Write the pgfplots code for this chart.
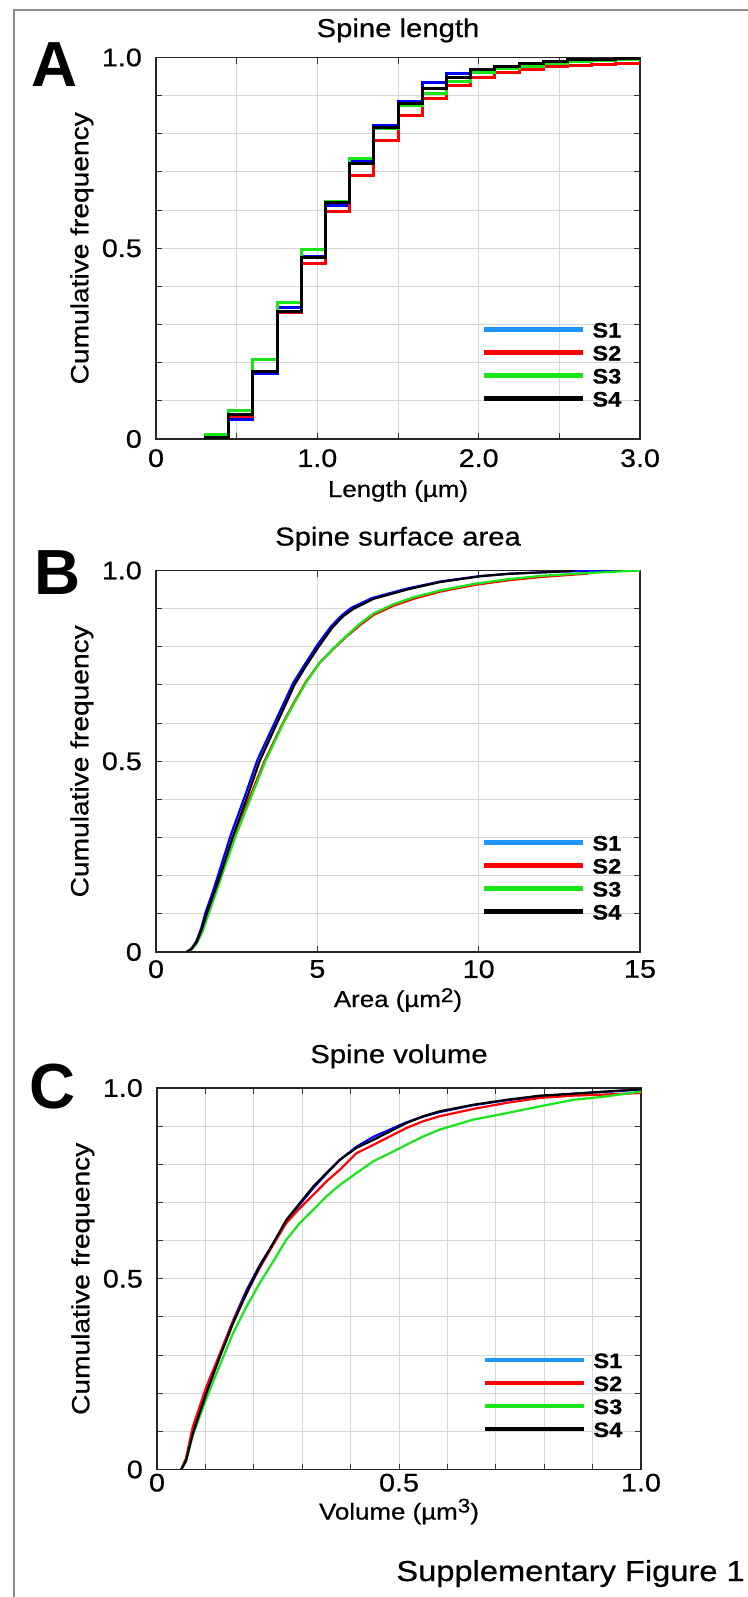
\documentclass[border=0pt]{standalone}
\usepackage{fontspec}
\setmainfont[FakeStretch=1.13, FakeBold=0.6]{Liberation Sans}
\newfontfamily\letterfont{Liberation Sans}
\usepackage{pgfplots}
\pgfplotsset{compat=1.18}
\definecolor{sone}{RGB}{0,0,255}
\definecolor{sonelg}{RGB}{30,150,255}
\definecolor{stwo}{RGB}{255,0,0}
\definecolor{sthree}{RGB}{25,230,25}
\definecolor{sfour}{RGB}{0,0,0}
\definecolor{gridgray}{RGB}{215,215,215}
\definecolor{framegray}{RGB}{140,140,140}

\pgfplotsset{
  panel/.style={
    scale only axis, width=484bp, height=381.5bp,
    ymin=0, ymax=1,
    ytick={0,0.1,0.2,0.3,0.4,0.5,0.6,0.7,0.8,0.9,1.0},
    yticklabels={0,,,,,0.5,,,,,1.0},
    tick align=inside, tick pos=both,
    major tick length=6bp,
    grid=major, major grid style={gridgray, line width=1bp},
    axis line style={black!85, line width=1.4bp},
    tick style={black!80, line width=1bp},
    /pgf/number format/assume math mode=true,
    ticklabel style={font=\fontsize{25.5}{25.5}\selectfont},
    yticklabel style={inner sep=0pt, xshift=-14bp},
    title style={at={(rel axis cs:0.5,1)}, anchor=base, inner sep=0pt, font=\fontsize{26}{26}\selectfont},
    xlabel style={at={(rel axis cs:0.5,0)}, anchor=base, inner sep=0pt, font=\fontsize{23}{23}\selectfont},
    ylabel style={at={(rel axis cs:-0.1399,0.5)}, anchor=base, inner sep=0pt, font=\fontsize{25}{25}\selectfont},
    ylabel={Cumulative frequency},
    legend style={at={(rel axis cs:0.673,0.1966)}, anchor=west, draw=none, fill=none,
      inner sep=0pt, row sep=7bp, column sep=7bp,
      font=\bfseries\fontsize{21}{21}\selectfont,
      nodes={inner sep=0pt, text height=16bp, text depth=0pt}},
    legend cell align=left,
    legend image code/.code={\draw[#1] (0bp,0bp) -- (99bp,0bp);},
  },
  lg/.style={line width=4.5bp},
}

\begin{document}
\begin{tikzpicture}
\useasboundingbox (0,0) rectangle (748bp,-1597bp);
\draw[framegray, line width=2bp] (14bp,-1597bp) -- (14bp,-10bp) -- (748bp,-10bp);

% ---------------- Panel A ----------------
\begin{axis}[panel, at={(156bp,-57.5bp)}, anchor=north west,
  xmin=0, xmax=3,
  xtick={0,0.5,1,1.5,2,2.5,3}, xticklabels={0,,1.0,,2.0,,3.0},
  xticklabel style={inner sep=0pt, yshift=-10bp},
  title={Spine length}, title style={yshift=14.5bp},
  xlabel={Length (µm)}, xlabel style={yshift=-58bp}]
\addlegendimage{lg, sonelg}\addlegendentry{S1}
\addlegendimage{lg, stwo}\addlegendentry{S2}
\addlegendimage{lg, sthree}\addlegendentry{S3}
\addlegendimage{lg, sfour}\addlegendentry{S4}
\addplot[forget plot, const plot, sone, line width=3bp] coordinates {
(0.30,0.003) (0.45,0.050) (0.60,0.172) (0.75,0.344) (0.90,0.479) (1.05,0.613)
(1.20,0.731) (1.35,0.823) (1.50,0.884) (1.65,0.934) (1.80,0.957) (1.95,0.969)
(2.10,0.977) (2.25,0.983) (2.40,0.986) (2.55,0.994) (2.70,0.996) (2.85,0.997) (3.00,0.997)};
\addplot[forget plot, const plot, stwo, line width=3bp] coordinates {
(0.30,0.003) (0.45,0.060) (0.60,0.176) (0.75,0.331) (0.90,0.460) (1.05,0.596)
(1.20,0.690) (1.35,0.782) (1.50,0.849) (1.65,0.893) (1.80,0.927) (1.95,0.948)
(2.10,0.961) (2.25,0.969) (2.40,0.977) (2.55,0.980) (2.70,0.982) (2.85,0.984) (3.00,0.985)};
\addplot[forget plot, const plot, sthree, line width=3bp] coordinates {
(0.30,0.012) (0.45,0.076) (0.60,0.209) (0.75,0.357) (0.90,0.497) (1.05,0.623)
(1.20,0.735) (1.35,0.814) (1.50,0.873) (1.65,0.906) (1.80,0.936) (1.95,0.960)
(2.10,0.971) (2.25,0.977) (2.40,0.985) (2.55,0.990) (2.70,0.993) (2.85,0.995) (3.00,0.995)};
\addplot[forget plot, const plot, sfour, line width=3bp] coordinates {
(0.30,0.004) (0.45,0.063) (0.60,0.176) (0.75,0.334) (0.90,0.475) (1.05,0.620)
(1.20,0.722) (1.35,0.817) (1.50,0.879) (1.65,0.919) (1.80,0.947) (1.95,0.969)
(2.10,0.977) (2.25,0.983) (2.40,0.990) (2.55,0.995) (2.70,0.996) (2.85,0.997) (3.00,0.997)};
\end{axis}

% ---------------- Panel B ----------------
\begin{axis}[panel, at={(156bp,-570.5bp)}, anchor=north west,
  xmin=0, xmax=15,
  xtick={0,5,10,15}, xticklabels={0,5,10,15},
  xticklabel style={inner sep=0pt, yshift=-8bp},
  title={Spine surface area}, title style={yshift=19bp},
  xlabel={Area (µm\raisebox{5bp}{\fontsize{20}{20}\selectfont 2})}, xlabel style={yshift=-55bp}]
\addlegendimage{lg, sonelg}\addlegendentry{S1}
\addlegendimage{lg, stwo}\addlegendentry{S2}
\addlegendimage{lg, sthree}\addlegendentry{S3}
\addlegendimage{lg, sfour}\addlegendentry{S4}
\addplot[forget plot, sone, line width=2.2bp] coordinates {
(0.95,0) (1.1,0.009) (1.25,0.028) (1.4,0.062) (1.54,0.105) (1.75,0.155) (1.94,0.205)
(2.31,0.305) (2.74,0.405) (3.15,0.505) (3.70,0.605) (4.25,0.705) (4.62,0.755) (5.00,0.805)
(5.42,0.853) (5.75,0.882) (6.05,0.902) (6.70,0.928) (7.75,0.952) (8.80,0.971) (10.0,0.985)
(11.0,0.992) (12.5,0.997) (14.2,1.0)};
\addplot[forget plot, stwo, line width=2.2bp] coordinates {
(0.95,0) (1.1,0.008) (1.26,0.024) (1.44,0.058) (1.60,0.10) (1.81,0.15) (2.02,0.20)
(2.43,0.30) (2.88,0.40) (3.36,0.50) (3.93,0.60) (4.28,0.655) (4.66,0.71) (5.07,0.758)
(5.5,0.795) (5.92,0.828) (6.34,0.858) (6.75,0.884) (7.37,0.908) (7.99,0.926) (8.82,0.945)
(9.86,0.962) (10.89,0.974) (11.93,0.983) (13.4,0.992)};
\addplot[forget plot, sthree, line width=2.2bp] coordinates {
(0.95,0) (1.1,0.007) (1.26,0.022) (1.45,0.055) (1.63,0.10) (1.84,0.15) (2.04,0.20)
(2.45,0.30) (2.92,0.40) (3.39,0.50) (3.95,0.60) (4.3,0.655) (4.68,0.71) (5.09,0.76)
(5.51,0.797) (5.92,0.83) (6.34,0.862) (6.75,0.888) (7.37,0.912) (7.99,0.93) (8.82,0.948)
(9.86,0.965) (10.89,0.977) (11.93,0.986) (13.5,0.994) (15,1.0)};
\addplot[forget plot, sfour, line width=2.2bp] coordinates {
(0.95,0) (1.1,0.008) (1.26,0.026) (1.42,0.06) (1.57,0.10) (1.78,0.15) (1.99,0.20)
(2.37,0.30) (2.80,0.40) (3.21,0.50) (3.75,0.60) (4.29,0.70) (4.65,0.75) (5.04,0.80)
(5.46,0.85) (5.8,0.88) (6.13,0.90) (6.75,0.926) (7.78,0.95) (8.82,0.97) (10.06,0.985)
(10.89,0.991) (12.44,0.997) (12.96,1.0)};
\end{axis}

% ---------------- Panel C ----------------
\begin{axis}[panel, at={(157bp,-1088bp)}, anchor=north west,
  xmin=0, xmax=1,
  xtick={0,0.1,0.2,0.3,0.4,0.5,0.6,0.7,0.8,0.9,1.0}, xticklabels={0,,,,,0.5,,,,,1.0},
  xticklabel style={inner sep=0pt, yshift=-4bp},
  title={Spine volume}, title style={yshift=19bp},
  xlabel={Volume (µm\raisebox{7bp}{\fontsize{20}{20}\selectfont 3})}, xlabel style={yshift=-50bp}]
\addlegendimage{lg, sonelg}\addlegendentry{S1}
\addlegendimage{lg, stwo}\addlegendentry{S2}
\addlegendimage{lg, sthree}\addlegendentry{S3}
\addlegendimage{lg, sfour}\addlegendentry{S4}
\addplot[forget plot, sone, line width=2.2bp] coordinates {
(0.05,0) (0.06,0.025) (0.074,0.097) (0.102,0.205) (0.13,0.302) (0.157,0.39) (0.185,0.47)
(0.212,0.535) (0.24,0.592) (0.267,0.65) (0.295,0.695) (0.323,0.738) (0.35,0.775)
(0.378,0.812) (0.412,0.846) (0.447,0.872) (0.481,0.891) (0.515,0.91) (0.55,0.925)
(0.584,0.937) (0.653,0.955) (0.722,0.968) (0.791,0.978) (0.86,0.985) (0.929,0.99) (1.0,0.996)};
\addplot[forget plot, stwo, line width=2.2bp] coordinates {
(0.05,0) (0.06,0.03) (0.074,0.112) (0.102,0.217) (0.13,0.304) (0.157,0.388) (0.185,0.462)
(0.212,0.528) (0.24,0.589) (0.267,0.646) (0.295,0.685) (0.323,0.72) (0.35,0.755)
(0.378,0.786) (0.412,0.829) (0.447,0.851) (0.481,0.873) (0.515,0.895) (0.55,0.913)
(0.584,0.926) (0.653,0.945) (0.722,0.961) (0.791,0.974) (0.86,0.98) (0.929,0.983) (1.0,0.987)};
\addplot[forget plot, sthree, line width=2.2bp] coordinates {
(0.05,0) (0.06,0.022) (0.074,0.09) (0.102,0.186) (0.13,0.274) (0.157,0.357) (0.185,0.427)
(0.212,0.488) (0.24,0.545) (0.267,0.602) (0.295,0.646) (0.323,0.681) (0.35,0.716)
(0.378,0.746) (0.412,0.777) (0.447,0.808) (0.481,0.829) (0.515,0.851) (0.55,0.873)
(0.584,0.891) (0.653,0.917) (0.722,0.934) (0.791,0.952) (0.86,0.969) (0.929,0.978) (1.0,0.991)};
\addplot[forget plot, sfour, line width=2.2bp] coordinates {
(0.05,0) (0.06,0.023) (0.074,0.094) (0.102,0.2) (0.13,0.296) (0.157,0.383) (0.185,0.462)
(0.212,0.532) (0.24,0.593) (0.267,0.654) (0.295,0.698) (0.323,0.742) (0.35,0.777)
(0.378,0.812) (0.412,0.843) (0.447,0.864) (0.481,0.886) (0.515,0.908) (0.55,0.926)
(0.584,0.939) (0.653,0.956) (0.722,0.969) (0.791,0.98) (0.86,0.985) (0.929,0.991) (1.0,0.997)};
\end{axis}

% panel letters and caption
\node[anchor=base west, inner sep=0pt, font=\letterfont\bfseries\fontsize{64}{64}\selectfont] at (31bp,-86.7bp) {A};
\node[anchor=base west, inner sep=0pt, font=\letterfont\bfseries\fontsize{64}{64}\selectfont] at (34bp,-594bp) {B};
\node[anchor=base west, inner sep=0pt, font=\letterfont\bfseries\fontsize{64}{64}\selectfont] at (29bp,-1108bp) {C};
\node[anchor=base east, inner sep=0pt, font=\fontsize{29}{29}\selectfont] at (745bp,-1581bp) {Supplementary Figure 1};
\end{tikzpicture}
\end{document}
